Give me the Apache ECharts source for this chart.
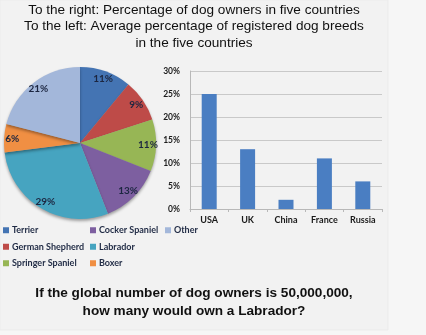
<!DOCTYPE html>
<html>
<head>
<meta charset="utf-8">
<script src="https://cdn.jsdelivr.net/npm/echarts@6/dist/echarts.min.js"></script>
<style>
  html, body { margin: 0; padding: 0; background: #f6f6f6; }
  #chart { width: 426px; height: 335px; }
</style>
</head>
<body>
<div id="chart"></div>
<script>
// Breed shares (percent), clockwise from 12 o'clock
const breeds = ['Terrier', 'German Shepherd', 'Springer Spaniel', 'Cocker Spaniel', 'Labrador', 'Boxer', 'Other'];
const breedShares = [11, 9, 11, 13, 29, 6, 21];
const breedColors = ['#4474b3', '#be4b48', '#97b655', '#7d5fa0', '#46a4c0', '#f08f43', '#a3b7da'];

// Dog owners by country (percent)
const countries = ['USA', 'UK', 'China', 'France', 'Russia'];
const ownerShares = [25, 13, 2, 11, 6];
const yTicks = [0, 5, 10, 15, 20, 25, 30];

const titleLines = [
  'To the right: Percentage of dog owners in five countries',
  'To the left: Average percentage of registered dog breeds',
  'in the five countries'
];
const questionLines = [
  'If the global number of dog owners is 50,000,000,',
  'how many would own a Labrador?'
];

const legendCols = [
  ['Terrier', 'German Shepherd', 'Springer Spaniel'],
  ['Cocker Spaniel', 'Labrador', 'Boxer'],
  ['Other']
];
const legendX = [3, 90, 165];

const pieData = breeds.map((n, i) => ({ name: n, value: breedShares[i], itemStyle: { color: breedColors[i] } }));

const chart = echarts.init(document.getElementById('chart'), null, { renderer: 'canvas' });

const labelFont = { fontFamily: 'Lato, "Open Sans", sans-serif', fontWeight: 'bold' };

chart.setOption({
  backgroundColor: '#f6f6f6',
  animation: false,
  graphic: [
    { type: 'rect', shape: { x: 0, y: 0, width: 388, height: 330 }, style: { fill: '#f2f2f2', stroke: '#ebebeb', lineWidth: 1 }, z: -10 },
    ...titleLines.map((t, i) => ({
      type: 'text', top: 3 + i * 16.5, x: 194, z: 10,
      style: { text: t, fill: '#111', font: '13.6px "Liberation Sans", Arial, sans-serif', textAlign: 'center' }
    })),
    ...questionLines.map((t, i) => ({
      type: 'text', top: 286 + i * 18, z: 10, x: 194,
      style: { text: t, fill: '#111', font: 'bold 13.6px "Liberation Sans", Arial, sans-serif', textAlign: 'center' }
    }))
  ],
  legend: legendCols.map((col, i) => ({
    orient: 'vertical',
    left: legendX[i],
    top: 223,
    itemGap: 2,
    itemWidth: 6,
    itemHeight: 6,
    icon: 'rect',
    padding: 0,
    data: col,
    selectedMode: false,
    textStyle: { fontSize: 9, color: '#1f2a44', padding: [0, 0, 0, -2], lineHeight: 14.5, ...labelFont }
  })),
  grid: { left: 190, right: 44, top: 71, bottom: 126 },
  xAxis: {
    type: 'category',
    data: countries,
    axisLine: { lineStyle: { color: '#b8b8b8' } },
    axisTick: { show: true, alignWithLabel: false, length: 3, lineStyle: { color: '#b8b8b8' } },
    axisLabel: { color: '#1a1a1a', fontSize: 9, margin: 7, ...labelFont }
  },
  yAxis: {
    type: 'value',
    min: 0, max: 30, interval: 5,
    axisLine: { show: true, lineStyle: { color: '#b8b8b8' } },
    axisTick: { show: false },
    splitLine: { lineStyle: { color: '#c9c9c9' } },
    axisLabel: { color: '#1a1a1a', fontSize: 8.5, margin: 10, formatter: v => v + '%', ...labelFont }
  },
  series: [
    {
      type: 'pie',
      center: [80, 143],
      radius: [0, 76],
      startAngle: 90,
      clockwise: true,
      data: pieData,
      label: { show: false },
      labelLine: { show: false },
      itemStyle: { borderWidth: 0, shadowColor: 'rgba(0,0,0,0.35)', shadowBlur: 3, shadowOffsetY: 2 },
      silent: true
    },
    {
      // label carrier: transparent pie so percentages sit near the rim
      type: 'pie',
      center: [80, 143],
      radius: [0, 130],
      startAngle: 90,
      clockwise: true,
      data: breeds.map((n, i) => ({ name: n, value: breedShares[i], itemStyle: { color: 'rgba(0,0,0,0)' } })),
      label: { show: true, position: 'inside', formatter: '{c}%', color: '#1c2640', fontSize: 10, ...labelFont },
      labelLine: { show: false },
      silent: true,
      legendHoverLink: false
    },
    {
      type: 'bar',
      data: ownerShares,
      barWidth: 15,
      itemStyle: { color: '#4a7ec2' },
      silent: true
    }
  ]
});
</script>
</body>
</html>
